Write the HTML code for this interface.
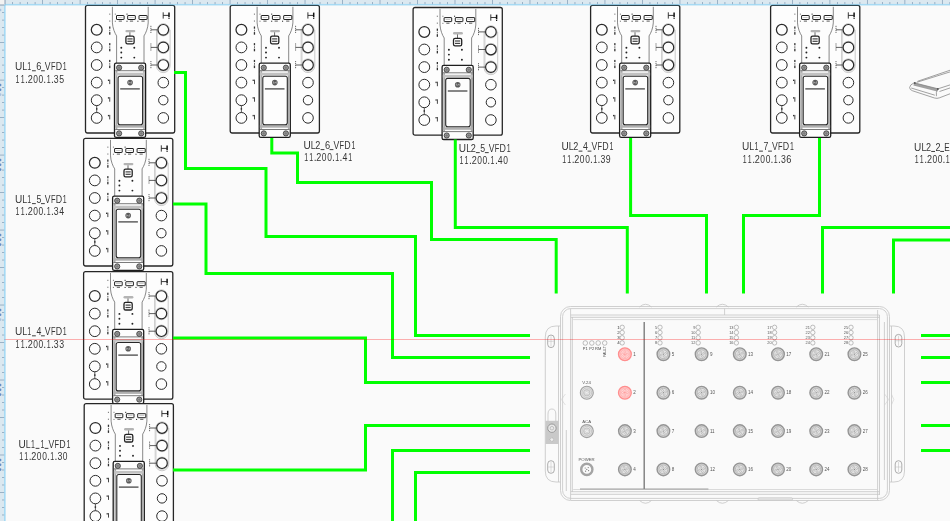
<!DOCTYPE html>
<html><head><meta charset="utf-8"><style>
html,body{margin:0;padding:0;background:#fafafa;width:950px;height:521px;overflow:hidden;font-family:"Liberation Sans",sans-serif;}
svg{display:block;will-change:transform}
</style></head><body>
<svg width="950" height="521" viewBox="0 0 950 521"><rect width="950" height="521" fill="#fafafa"/>
<defs><g id="vfd"><rect x="-0.1" y="0.1" width="89.2" height="127.6" rx="1.9" fill="#fdfdfd" stroke="#262626" stroke-width="1.3"/>
<path d="M26.8 1.5V17.6C27.2 23 29 27.5 31 30.6V58" fill="none" stroke="#6a6a6a" stroke-width="0.8"/>
<path d="M62.6 1.5V17.6C62.2 23 60.4 27.5 58.4 30.6V58" fill="none" stroke="#6a6a6a" stroke-width="0.8"/>
<rect x="30.9" y="10.2" width="7.6" height="4" rx="0.4" fill="#fff" stroke="#222" stroke-width="1"/>
<rect x="32.4" y="11.9" width="4.6" height="0.6" fill="#a8a8a8"/>
<rect x="33.099999999999994" y="15.3" width="3.2" height="1" fill="#5a5a5a"/>
<rect x="42.1" y="10.2" width="7.6" height="4" rx="0.4" fill="#fff" stroke="#222" stroke-width="1"/>
<rect x="43.6" y="11.9" width="4.6" height="0.6" fill="#a8a8a8"/>
<rect x="44.3" y="15.3" width="3.2" height="1" fill="#5a5a5a"/>
<rect x="53.4" y="10.2" width="8.1" height="4" rx="0.4" fill="#fff" stroke="#222" stroke-width="1"/>
<rect x="54.9" y="11.9" width="5.1" height="0.6" fill="#a8a8a8"/>
<rect x="55.849999999999994" y="15.3" width="3.2" height="1" fill="#5a5a5a"/>
<rect x="29.2" y="8.3" width="1" height="1.1" fill="#777"/>
<rect x="29.2" y="15.4" width="1" height="1.1" fill="#777"/>
<rect x="40.9" y="8.3" width="1" height="1.1" fill="#222"/>
<rect x="40.9" y="15.4" width="1" height="1.1" fill="#222"/>
<rect x="51.8" y="15.4" width="1" height="1.1" fill="#222"/>
<path d="M77.6 7V13.3M77.6 10.1H83.2" stroke="#222" stroke-width="0.9" fill="none"/>
<path d="M83.4 7.3V12" stroke="#111" stroke-width="1.5"/><rect x="82.8" y="12.6" width="1.2" height="1" fill="#111"/>
<rect x="39.8" y="24.6" width="9.9" height="2.4" rx="1.2" fill="#b4b4b4"/>
<path d="M44.3 27V30.8" stroke="#444" stroke-width="0.8"/>
<rect x="40.3" y="30.9" width="8.2" height="7.6" rx="1.6" fill="#fff" stroke="#222" stroke-width="1.3"/>
<rect x="41.8" y="33" width="5.2" height="1.2" fill="#444"/><rect x="41.8" y="35.4" width="5.2" height="1.2" fill="#444"/>
<circle cx="35.7" cy="42.4" r="0.95" fill="#222"/>
<circle cx="35.7" cy="47.2" r="0.95" fill="#222"/>
<circle cx="35.7" cy="52.3" r="0.95" fill="#222"/>
<circle cx="48.7" cy="42.4" r="0.95" fill="#222"/>
<circle cx="48.7" cy="52.3" r="0.95" fill="#222"/>
<circle cx="11.1" cy="24.5" r="5.4" fill="none" stroke="#2a2a2a" stroke-width="1.25"/>
<circle cx="11.1" cy="42.1" r="5.4" fill="none" stroke="#2a2a2a" stroke-width="1"/>
<circle cx="11.1" cy="59.7" r="5.4" fill="none" stroke="#2a2a2a" stroke-width="1"/>
<circle cx="11.1" cy="77.3" r="5.4" fill="none" stroke="#2a2a2a" stroke-width="1"/>
<circle cx="11.1" cy="94.9" r="5.4" fill="none" stroke="#2a2a2a" stroke-width="1"/>
<circle cx="11.1" cy="112.6" r="5.4" fill="none" stroke="#2a2a2a" stroke-width="1"/>
<path d="M11.1 100.3V107.2" stroke="#333" stroke-width="0.8"/><rect x="10.4" y="102.8" width="1.4" height="1.6" fill="#333"/>
<rect x="23.6" y="8.3" width="1.1" height="1.1" fill="#777"/>
<rect x="23.6" y="15.2" width="1.1" height="1.1" fill="#777"/>
<rect x="23.5" y="21.2" width="1.3" height="2.2" fill="#333"/><rect x="23.7" y="24.4" width="0.9" height="1.6" fill="#555"/><rect x="23.5" y="26.799999999999997" width="1.3" height="2.6" fill="#333"/>
<rect x="23.5" y="37.8" width="1.3" height="2.2" fill="#333"/><rect x="23.7" y="41.0" width="0.9" height="1.6" fill="#555"/><rect x="23.5" y="43.4" width="1.3" height="2.6" fill="#333"/>
<rect x="23.5" y="54.6" width="1.3" height="2.2" fill="#333"/><rect x="23.7" y="57.800000000000004" width="0.9" height="1.6" fill="#555"/><rect x="23.5" y="60.2" width="1.3" height="2.6" fill="#333"/>
<rect x="22.3" y="74.3" width="1.2" height="1.4" fill="#333"/><rect x="23.7" y="74.3" width="0.9" height="4.5" fill="#333"/>
<rect x="22.3" y="91.9" width="1.2" height="1.4" fill="#333"/><rect x="23.7" y="91.9" width="0.9" height="4.5" fill="#333"/>
<rect x="22.3" y="109.6" width="1.2" height="1.4" fill="#333"/><rect x="23.7" y="109.6" width="0.9" height="4.5" fill="#333"/>
<path d="M70.9 24.5V60.5A6.8 6.8 0 0 0 84.5 60.5V24.5" fill="none" stroke="#a0a0a0" stroke-width="0.55"/>
<path d="M71.9 24.5V60" fill="none" stroke="#bdbdbd" stroke-width="0.5"/>
<circle cx="77.7" cy="24.5" r="6.1" fill="#fdfdfd" stroke="#a6a6a6" stroke-width="0.7"/>
<circle cx="77.7" cy="24.5" r="5.3" fill="#fdfdfd" stroke="#262626" stroke-width="1.15"/>
<path d="M65.3 24.5H72" stroke="#333" stroke-width="0.8"/><path d="M65.3 20.5V28.5" stroke="#444" stroke-width="0.8" stroke-dasharray="1.2 0.8"/>
<circle cx="77.7" cy="42.1" r="6.1" fill="#fdfdfd" stroke="#a6a6a6" stroke-width="0.7"/>
<circle cx="77.7" cy="42.1" r="5.3" fill="#fdfdfd" stroke="#262626" stroke-width="1.15"/>
<path d="M65.3 42.1H72" stroke="#333" stroke-width="0.8"/><path d="M65.3 38.1V46.1" stroke="#444" stroke-width="0.8" stroke-dasharray="1.2 0.8"/>
<circle cx="77.7" cy="59.7" r="6.1" fill="#fdfdfd" stroke="#a6a6a6" stroke-width="0.7"/>
<circle cx="77.7" cy="59.7" r="5.3" fill="#fdfdfd" stroke="#262626" stroke-width="1.15"/>
<path d="M65.3 59.7H72" stroke="#333" stroke-width="0.8"/><path d="M65.3 55.7V63.7" stroke="#444" stroke-width="0.8" stroke-dasharray="1.2 0.8"/>
<circle cx="77.7" cy="77.3" r="5.3" fill="none" stroke="#2a2a2a" stroke-width="1"/>
<circle cx="77.7" cy="94.9" r="4.7" fill="none" stroke="#2a2a2a" stroke-width="1"/>
<circle cx="77.7" cy="112.6" r="5.3" fill="none" stroke="#2a2a2a" stroke-width="1"/>
<rect x="28.9" y="57.9" width="31.1" height="74.2" rx="1.6" fill="#fdfdfd" stroke="#1e1e1e" stroke-width="1.3"/>
<rect x="30.1" y="65.3" width="1.7" height="59" fill="#acacac"/>
<rect x="57.6" y="65.3" width="1.6" height="59" fill="#acacac"/>
<rect x="29.6" y="64.9" width="29.8" height="1" fill="#7a7a7a"/>
<rect x="29.6" y="67.4" width="29.8" height="2.8" fill="#c2c2c2"/>
<rect x="29.6" y="119.9" width="29.8" height="2.5" fill="#b0b0b0"/>
<rect x="29.6" y="123.7" width="29.8" height="1" fill="#7a7a7a"/>
<rect x="32.5" y="71" width="24.5" height="48.4" rx="2" fill="#fdfdfd" stroke="#262626" stroke-width="1.1"/>
<circle cx="33.5" cy="62.4" r="2.6" fill="#9a9a9a" stroke="#333" stroke-width="0.8"/>
<path d="M32.1 62.4H34.9M33.5 61.0V63.8" stroke="#666" stroke-width="0.5"/>
<circle cx="55.6" cy="62.4" r="2.6" fill="#9a9a9a" stroke="#333" stroke-width="0.8"/>
<path d="M54.2 62.4H57.0M55.6 61.0V63.8" stroke="#666" stroke-width="0.5"/>
<circle cx="33.5" cy="128.1" r="2.6" fill="#9a9a9a" stroke="#333" stroke-width="0.8"/>
<path d="M32.1 128.1H34.9M33.5 126.69999999999999V129.5" stroke="#666" stroke-width="0.5"/>
<circle cx="55.6" cy="128.1" r="2.6" fill="#9a9a9a" stroke="#333" stroke-width="0.8"/>
<path d="M54.2 128.1H57.0M55.6 126.69999999999999V129.5" stroke="#666" stroke-width="0.5"/>
<circle cx="44.5" cy="77.3" r="2.8" fill="#5a5a5a"/><path d="M43 78.4V76.4L44.5 77.8L46 76.4V78.4" stroke="#ddd" stroke-width="0.5" fill="none"/>
<rect x="34.6" y="83" width="19.6" height="1.2" fill="#3a3a3a"/></g></defs>
<use href="#vfd" x="85.6" y="5.3"/>
<g font-family="Liberation Sans, sans-serif" fill="#555"><path d="M561 326H556Q545.3 326 545.3 337V471Q545.3 482 556 482H561" fill="#fafafa" stroke="#c4c4c4" stroke-width="0.8"/>
<path d="M558.5 326V482" stroke="#c4c4c4" stroke-width="0.8"/>
<path d="M889 326H894Q904.5 326 904.5 337V471Q904.5 482 894 482H889" fill="#fafafa" stroke="#c4c4c4" stroke-width="0.8"/>
<path d="M891.5 326V482" stroke="#c4c4c4" stroke-width="0.8"/>
<rect x="547.7" y="335.0" width="6.6" height="12.6" rx="3.3" fill="none" stroke="#999" stroke-width="0.8"/>
<path d="M551 336.3V346.3M548.2 341.3H553.8" stroke="#bbb" stroke-width="0.5"/>
<rect x="547.7" y="460.7" width="6.6" height="12.6" rx="3.3" fill="none" stroke="#999" stroke-width="0.8"/>
<path d="M551 462V472M548.2 467H553.8" stroke="#bbb" stroke-width="0.5"/>
<rect x="895.2" y="334.4" width="6.6" height="12.6" rx="3.3" fill="none" stroke="#999" stroke-width="0.8"/>
<path d="M898.5 335.7V345.7M895.7 340.7H901.3" stroke="#bbb" stroke-width="0.5"/>
<rect x="895.2" y="460.7" width="6.6" height="12.6" rx="3.3" fill="none" stroke="#999" stroke-width="0.8"/>
<path d="M898.5 462V472M895.7 467H901.3" stroke="#bbb" stroke-width="0.5"/>
<rect x="560.5" y="306.5" width="329" height="194" rx="10" fill="#fafafa" stroke="#c4c4c4" stroke-width="0.8"/>
<rect x="562.6" y="308.6" width="324.8" height="189.8" rx="8" fill="none" stroke="#c4c4c4" stroke-width="0.8"/>
<path d="M570.8 315H879.5M570.8 317.3H879.5M570.8 491.7H879.5M570.8 494.3H879.5" stroke="#c4c4c4" stroke-width="0.8"/>
<path d="M570.6 308.6V500M572.3 317V492" stroke="#c4c4c4" stroke-width="0.8"/>
<path d="M877.6 310V500M879.5 315V495M884.4 322V480" stroke="#c4c4c4" stroke-width="0.8"/>
<path d="M573.2 319.6H877.6M573.2 489.5H877.6" stroke="#d2d2d2" stroke-width="0.8"/>
<path d="M639.5 307Q645.5 301.5 651.5 307" fill="none" stroke="#c4c4c4" stroke-width="0.8"/>
<path d="M639.5 500.5Q645.5 506 651.5 500.5" fill="none" stroke="#c4c4c4" stroke-width="0.8"/>
<path d="M716.4 307Q722.4 301.5 728.4 307" fill="none" stroke="#c4c4c4" stroke-width="0.8"/>
<path d="M716.4 500.5Q722.4 506 728.4 500.5" fill="none" stroke="#c4c4c4" stroke-width="0.8"/>
<path d="M796.3 307Q802.3 301.5 808.3 307" fill="none" stroke="#c4c4c4" stroke-width="0.8"/>
<path d="M796.3 500.5Q802.3 506 808.3 500.5" fill="none" stroke="#c4c4c4" stroke-width="0.8"/>
<rect x="758" y="497.8" width="34.5" height="2.4" rx="1" fill="#e6e6e6" stroke="#bdbdbd" stroke-width="0.6"/>
<path d="M566.3 430V491M724.6 308.6V315" stroke="#c4c4c4" stroke-width="0.8"/>
<path d="M884.6 394L888.6 399.5L884.6 405M891.4 394L893.8 399.5L891.4 405" fill="none" stroke="#cfcfcf" stroke-width="0.6"/>
<path d="M565.4 394L561.4 399.5L565.4 405" fill="none" stroke="#cfcfcf" stroke-width="0.6"/>
<path d="M644.2 322V489" stroke="#7c7c7c" stroke-width="1.4"/>
<path d="M580 489H708.4" stroke="#888" stroke-width="0.8"/>
<circle cx="663.4" cy="354.2" r="6.3" fill="#d4d4d4" stroke="#959595" stroke-width="1.4"/><circle cx="663.4" cy="354.2" r="4.4" fill="#e2e2e2" stroke="#a4a4a4" stroke-width="0.6"/><circle cx="662.6" cy="352.0" r="0.9" fill="#f2f2f2" stroke="#8c8c8c" stroke-width="0.4"/><circle cx="665.6" cy="353.4" r="0.9" fill="#f2f2f2" stroke="#8c8c8c" stroke-width="0.4"/><circle cx="664.1999999999999" cy="356.4" r="0.9" fill="#f2f2f2" stroke="#8c8c8c" stroke-width="0.4"/><circle cx="661.1999999999999" cy="355.0" r="0.9" fill="#f2f2f2" stroke="#8c8c8c" stroke-width="0.4"/><circle cx="663.4" cy="354.2" r="0.6" fill="#888"/>
<text x="671.6999999999999" y="355.8" font-size="4.5">5</text>
<circle cx="663.4" cy="392.7" r="6.3" fill="#d4d4d4" stroke="#959595" stroke-width="1.4"/><circle cx="663.4" cy="392.7" r="4.4" fill="#e2e2e2" stroke="#a4a4a4" stroke-width="0.6"/><circle cx="662.6" cy="390.5" r="0.9" fill="#f2f2f2" stroke="#8c8c8c" stroke-width="0.4"/><circle cx="665.6" cy="391.9" r="0.9" fill="#f2f2f2" stroke="#8c8c8c" stroke-width="0.4"/><circle cx="664.1999999999999" cy="394.9" r="0.9" fill="#f2f2f2" stroke="#8c8c8c" stroke-width="0.4"/><circle cx="661.1999999999999" cy="393.5" r="0.9" fill="#f2f2f2" stroke="#8c8c8c" stroke-width="0.4"/><circle cx="663.4" cy="392.7" r="0.6" fill="#888"/>
<text x="671.6999999999999" y="394.3" font-size="4.5">6</text>
<circle cx="663.4" cy="431.1" r="6.3" fill="#d4d4d4" stroke="#959595" stroke-width="1.4"/><circle cx="663.4" cy="431.1" r="4.4" fill="#e2e2e2" stroke="#a4a4a4" stroke-width="0.6"/><circle cx="662.6" cy="428.90000000000003" r="0.9" fill="#f2f2f2" stroke="#8c8c8c" stroke-width="0.4"/><circle cx="665.6" cy="430.3" r="0.9" fill="#f2f2f2" stroke="#8c8c8c" stroke-width="0.4"/><circle cx="664.1999999999999" cy="433.3" r="0.9" fill="#f2f2f2" stroke="#8c8c8c" stroke-width="0.4"/><circle cx="661.1999999999999" cy="431.90000000000003" r="0.9" fill="#f2f2f2" stroke="#8c8c8c" stroke-width="0.4"/><circle cx="663.4" cy="431.1" r="0.6" fill="#888"/>
<text x="671.6999999999999" y="432.70000000000005" font-size="4.5">7</text>
<circle cx="663.4" cy="469.4" r="6.3" fill="#d4d4d4" stroke="#959595" stroke-width="1.4"/><circle cx="663.4" cy="469.4" r="4.4" fill="#e2e2e2" stroke="#a4a4a4" stroke-width="0.6"/><circle cx="662.6" cy="467.2" r="0.9" fill="#f2f2f2" stroke="#8c8c8c" stroke-width="0.4"/><circle cx="665.6" cy="468.59999999999997" r="0.9" fill="#f2f2f2" stroke="#8c8c8c" stroke-width="0.4"/><circle cx="664.1999999999999" cy="471.59999999999997" r="0.9" fill="#f2f2f2" stroke="#8c8c8c" stroke-width="0.4"/><circle cx="661.1999999999999" cy="470.2" r="0.9" fill="#f2f2f2" stroke="#8c8c8c" stroke-width="0.4"/><circle cx="663.4" cy="469.4" r="0.6" fill="#888"/>
<text x="671.6999999999999" y="471.0" font-size="4.5">8</text>
<circle cx="701.6" cy="354.2" r="6.3" fill="#d4d4d4" stroke="#959595" stroke-width="1.4"/><circle cx="701.6" cy="354.2" r="4.4" fill="#e2e2e2" stroke="#a4a4a4" stroke-width="0.6"/><circle cx="700.8000000000001" cy="352.0" r="0.9" fill="#f2f2f2" stroke="#8c8c8c" stroke-width="0.4"/><circle cx="703.8000000000001" cy="353.4" r="0.9" fill="#f2f2f2" stroke="#8c8c8c" stroke-width="0.4"/><circle cx="702.4" cy="356.4" r="0.9" fill="#f2f2f2" stroke="#8c8c8c" stroke-width="0.4"/><circle cx="699.4" cy="355.0" r="0.9" fill="#f2f2f2" stroke="#8c8c8c" stroke-width="0.4"/><circle cx="701.6" cy="354.2" r="0.6" fill="#888"/>
<text x="709.9" y="355.8" font-size="4.5">9</text>
<circle cx="701.6" cy="392.7" r="6.3" fill="#d4d4d4" stroke="#959595" stroke-width="1.4"/><circle cx="701.6" cy="392.7" r="4.4" fill="#e2e2e2" stroke="#a4a4a4" stroke-width="0.6"/><circle cx="700.8000000000001" cy="390.5" r="0.9" fill="#f2f2f2" stroke="#8c8c8c" stroke-width="0.4"/><circle cx="703.8000000000001" cy="391.9" r="0.9" fill="#f2f2f2" stroke="#8c8c8c" stroke-width="0.4"/><circle cx="702.4" cy="394.9" r="0.9" fill="#f2f2f2" stroke="#8c8c8c" stroke-width="0.4"/><circle cx="699.4" cy="393.5" r="0.9" fill="#f2f2f2" stroke="#8c8c8c" stroke-width="0.4"/><circle cx="701.6" cy="392.7" r="0.6" fill="#888"/>
<text x="709.9" y="394.3" font-size="4.5">10</text>
<circle cx="701.6" cy="431.1" r="6.3" fill="#d4d4d4" stroke="#959595" stroke-width="1.4"/><circle cx="701.6" cy="431.1" r="4.4" fill="#e2e2e2" stroke="#a4a4a4" stroke-width="0.6"/><circle cx="700.8000000000001" cy="428.90000000000003" r="0.9" fill="#f2f2f2" stroke="#8c8c8c" stroke-width="0.4"/><circle cx="703.8000000000001" cy="430.3" r="0.9" fill="#f2f2f2" stroke="#8c8c8c" stroke-width="0.4"/><circle cx="702.4" cy="433.3" r="0.9" fill="#f2f2f2" stroke="#8c8c8c" stroke-width="0.4"/><circle cx="699.4" cy="431.90000000000003" r="0.9" fill="#f2f2f2" stroke="#8c8c8c" stroke-width="0.4"/><circle cx="701.6" cy="431.1" r="0.6" fill="#888"/>
<text x="709.9" y="432.70000000000005" font-size="4.5">11</text>
<circle cx="701.6" cy="469.4" r="6.3" fill="#d4d4d4" stroke="#959595" stroke-width="1.4"/><circle cx="701.6" cy="469.4" r="4.4" fill="#e2e2e2" stroke="#a4a4a4" stroke-width="0.6"/><circle cx="700.8000000000001" cy="467.2" r="0.9" fill="#f2f2f2" stroke="#8c8c8c" stroke-width="0.4"/><circle cx="703.8000000000001" cy="468.59999999999997" r="0.9" fill="#f2f2f2" stroke="#8c8c8c" stroke-width="0.4"/><circle cx="702.4" cy="471.59999999999997" r="0.9" fill="#f2f2f2" stroke="#8c8c8c" stroke-width="0.4"/><circle cx="699.4" cy="470.2" r="0.9" fill="#f2f2f2" stroke="#8c8c8c" stroke-width="0.4"/><circle cx="701.6" cy="469.4" r="0.6" fill="#888"/>
<text x="709.9" y="471.0" font-size="4.5">12</text>
<circle cx="739.8" cy="354.2" r="6.3" fill="#d4d4d4" stroke="#959595" stroke-width="1.4"/><circle cx="739.8" cy="354.2" r="4.4" fill="#e2e2e2" stroke="#a4a4a4" stroke-width="0.6"/><circle cx="739.0" cy="352.0" r="0.9" fill="#f2f2f2" stroke="#8c8c8c" stroke-width="0.4"/><circle cx="742.0" cy="353.4" r="0.9" fill="#f2f2f2" stroke="#8c8c8c" stroke-width="0.4"/><circle cx="740.5999999999999" cy="356.4" r="0.9" fill="#f2f2f2" stroke="#8c8c8c" stroke-width="0.4"/><circle cx="737.5999999999999" cy="355.0" r="0.9" fill="#f2f2f2" stroke="#8c8c8c" stroke-width="0.4"/><circle cx="739.8" cy="354.2" r="0.6" fill="#888"/>
<text x="748.0999999999999" y="355.8" font-size="4.5">13</text>
<circle cx="739.8" cy="392.7" r="6.3" fill="#d4d4d4" stroke="#959595" stroke-width="1.4"/><circle cx="739.8" cy="392.7" r="4.4" fill="#e2e2e2" stroke="#a4a4a4" stroke-width="0.6"/><circle cx="739.0" cy="390.5" r="0.9" fill="#f2f2f2" stroke="#8c8c8c" stroke-width="0.4"/><circle cx="742.0" cy="391.9" r="0.9" fill="#f2f2f2" stroke="#8c8c8c" stroke-width="0.4"/><circle cx="740.5999999999999" cy="394.9" r="0.9" fill="#f2f2f2" stroke="#8c8c8c" stroke-width="0.4"/><circle cx="737.5999999999999" cy="393.5" r="0.9" fill="#f2f2f2" stroke="#8c8c8c" stroke-width="0.4"/><circle cx="739.8" cy="392.7" r="0.6" fill="#888"/>
<text x="748.0999999999999" y="394.3" font-size="4.5">14</text>
<circle cx="739.8" cy="431.1" r="6.3" fill="#d4d4d4" stroke="#959595" stroke-width="1.4"/><circle cx="739.8" cy="431.1" r="4.4" fill="#e2e2e2" stroke="#a4a4a4" stroke-width="0.6"/><circle cx="739.0" cy="428.90000000000003" r="0.9" fill="#f2f2f2" stroke="#8c8c8c" stroke-width="0.4"/><circle cx="742.0" cy="430.3" r="0.9" fill="#f2f2f2" stroke="#8c8c8c" stroke-width="0.4"/><circle cx="740.5999999999999" cy="433.3" r="0.9" fill="#f2f2f2" stroke="#8c8c8c" stroke-width="0.4"/><circle cx="737.5999999999999" cy="431.90000000000003" r="0.9" fill="#f2f2f2" stroke="#8c8c8c" stroke-width="0.4"/><circle cx="739.8" cy="431.1" r="0.6" fill="#888"/>
<text x="748.0999999999999" y="432.70000000000005" font-size="4.5">15</text>
<circle cx="739.8" cy="469.4" r="6.3" fill="#d4d4d4" stroke="#959595" stroke-width="1.4"/><circle cx="739.8" cy="469.4" r="4.4" fill="#e2e2e2" stroke="#a4a4a4" stroke-width="0.6"/><circle cx="739.0" cy="467.2" r="0.9" fill="#f2f2f2" stroke="#8c8c8c" stroke-width="0.4"/><circle cx="742.0" cy="468.59999999999997" r="0.9" fill="#f2f2f2" stroke="#8c8c8c" stroke-width="0.4"/><circle cx="740.5999999999999" cy="471.59999999999997" r="0.9" fill="#f2f2f2" stroke="#8c8c8c" stroke-width="0.4"/><circle cx="737.5999999999999" cy="470.2" r="0.9" fill="#f2f2f2" stroke="#8c8c8c" stroke-width="0.4"/><circle cx="739.8" cy="469.4" r="0.6" fill="#888"/>
<text x="748.0999999999999" y="471.0" font-size="4.5">16</text>
<circle cx="778" cy="354.2" r="6.3" fill="#d4d4d4" stroke="#959595" stroke-width="1.4"/><circle cx="778" cy="354.2" r="4.4" fill="#e2e2e2" stroke="#a4a4a4" stroke-width="0.6"/><circle cx="777.2" cy="352.0" r="0.9" fill="#f2f2f2" stroke="#8c8c8c" stroke-width="0.4"/><circle cx="780.2" cy="353.4" r="0.9" fill="#f2f2f2" stroke="#8c8c8c" stroke-width="0.4"/><circle cx="778.8" cy="356.4" r="0.9" fill="#f2f2f2" stroke="#8c8c8c" stroke-width="0.4"/><circle cx="775.8" cy="355.0" r="0.9" fill="#f2f2f2" stroke="#8c8c8c" stroke-width="0.4"/><circle cx="778" cy="354.2" r="0.6" fill="#888"/>
<text x="786.3" y="355.8" font-size="4.5">17</text>
<circle cx="778" cy="392.7" r="6.3" fill="#d4d4d4" stroke="#959595" stroke-width="1.4"/><circle cx="778" cy="392.7" r="4.4" fill="#e2e2e2" stroke="#a4a4a4" stroke-width="0.6"/><circle cx="777.2" cy="390.5" r="0.9" fill="#f2f2f2" stroke="#8c8c8c" stroke-width="0.4"/><circle cx="780.2" cy="391.9" r="0.9" fill="#f2f2f2" stroke="#8c8c8c" stroke-width="0.4"/><circle cx="778.8" cy="394.9" r="0.9" fill="#f2f2f2" stroke="#8c8c8c" stroke-width="0.4"/><circle cx="775.8" cy="393.5" r="0.9" fill="#f2f2f2" stroke="#8c8c8c" stroke-width="0.4"/><circle cx="778" cy="392.7" r="0.6" fill="#888"/>
<text x="786.3" y="394.3" font-size="4.5">18</text>
<circle cx="778" cy="431.1" r="6.3" fill="#d4d4d4" stroke="#959595" stroke-width="1.4"/><circle cx="778" cy="431.1" r="4.4" fill="#e2e2e2" stroke="#a4a4a4" stroke-width="0.6"/><circle cx="777.2" cy="428.90000000000003" r="0.9" fill="#f2f2f2" stroke="#8c8c8c" stroke-width="0.4"/><circle cx="780.2" cy="430.3" r="0.9" fill="#f2f2f2" stroke="#8c8c8c" stroke-width="0.4"/><circle cx="778.8" cy="433.3" r="0.9" fill="#f2f2f2" stroke="#8c8c8c" stroke-width="0.4"/><circle cx="775.8" cy="431.90000000000003" r="0.9" fill="#f2f2f2" stroke="#8c8c8c" stroke-width="0.4"/><circle cx="778" cy="431.1" r="0.6" fill="#888"/>
<text x="786.3" y="432.70000000000005" font-size="4.5">19</text>
<circle cx="778" cy="469.4" r="6.3" fill="#d4d4d4" stroke="#959595" stroke-width="1.4"/><circle cx="778" cy="469.4" r="4.4" fill="#e2e2e2" stroke="#a4a4a4" stroke-width="0.6"/><circle cx="777.2" cy="467.2" r="0.9" fill="#f2f2f2" stroke="#8c8c8c" stroke-width="0.4"/><circle cx="780.2" cy="468.59999999999997" r="0.9" fill="#f2f2f2" stroke="#8c8c8c" stroke-width="0.4"/><circle cx="778.8" cy="471.59999999999997" r="0.9" fill="#f2f2f2" stroke="#8c8c8c" stroke-width="0.4"/><circle cx="775.8" cy="470.2" r="0.9" fill="#f2f2f2" stroke="#8c8c8c" stroke-width="0.4"/><circle cx="778" cy="469.4" r="0.6" fill="#888"/>
<text x="786.3" y="471.0" font-size="4.5">20</text>
<circle cx="816.2" cy="354.2" r="6.3" fill="#d4d4d4" stroke="#959595" stroke-width="1.4"/><circle cx="816.2" cy="354.2" r="4.4" fill="#e2e2e2" stroke="#a4a4a4" stroke-width="0.6"/><circle cx="815.4000000000001" cy="352.0" r="0.9" fill="#f2f2f2" stroke="#8c8c8c" stroke-width="0.4"/><circle cx="818.4000000000001" cy="353.4" r="0.9" fill="#f2f2f2" stroke="#8c8c8c" stroke-width="0.4"/><circle cx="817.0" cy="356.4" r="0.9" fill="#f2f2f2" stroke="#8c8c8c" stroke-width="0.4"/><circle cx="814.0" cy="355.0" r="0.9" fill="#f2f2f2" stroke="#8c8c8c" stroke-width="0.4"/><circle cx="816.2" cy="354.2" r="0.6" fill="#888"/>
<text x="824.5" y="355.8" font-size="4.5">21</text>
<circle cx="816.2" cy="392.7" r="6.3" fill="#d4d4d4" stroke="#959595" stroke-width="1.4"/><circle cx="816.2" cy="392.7" r="4.4" fill="#e2e2e2" stroke="#a4a4a4" stroke-width="0.6"/><circle cx="815.4000000000001" cy="390.5" r="0.9" fill="#f2f2f2" stroke="#8c8c8c" stroke-width="0.4"/><circle cx="818.4000000000001" cy="391.9" r="0.9" fill="#f2f2f2" stroke="#8c8c8c" stroke-width="0.4"/><circle cx="817.0" cy="394.9" r="0.9" fill="#f2f2f2" stroke="#8c8c8c" stroke-width="0.4"/><circle cx="814.0" cy="393.5" r="0.9" fill="#f2f2f2" stroke="#8c8c8c" stroke-width="0.4"/><circle cx="816.2" cy="392.7" r="0.6" fill="#888"/>
<text x="824.5" y="394.3" font-size="4.5">22</text>
<circle cx="816.2" cy="431.1" r="6.3" fill="#d4d4d4" stroke="#959595" stroke-width="1.4"/><circle cx="816.2" cy="431.1" r="4.4" fill="#e2e2e2" stroke="#a4a4a4" stroke-width="0.6"/><circle cx="815.4000000000001" cy="428.90000000000003" r="0.9" fill="#f2f2f2" stroke="#8c8c8c" stroke-width="0.4"/><circle cx="818.4000000000001" cy="430.3" r="0.9" fill="#f2f2f2" stroke="#8c8c8c" stroke-width="0.4"/><circle cx="817.0" cy="433.3" r="0.9" fill="#f2f2f2" stroke="#8c8c8c" stroke-width="0.4"/><circle cx="814.0" cy="431.90000000000003" r="0.9" fill="#f2f2f2" stroke="#8c8c8c" stroke-width="0.4"/><circle cx="816.2" cy="431.1" r="0.6" fill="#888"/>
<text x="824.5" y="432.70000000000005" font-size="4.5">23</text>
<circle cx="816.2" cy="469.4" r="6.3" fill="#d4d4d4" stroke="#959595" stroke-width="1.4"/><circle cx="816.2" cy="469.4" r="4.4" fill="#e2e2e2" stroke="#a4a4a4" stroke-width="0.6"/><circle cx="815.4000000000001" cy="467.2" r="0.9" fill="#f2f2f2" stroke="#8c8c8c" stroke-width="0.4"/><circle cx="818.4000000000001" cy="468.59999999999997" r="0.9" fill="#f2f2f2" stroke="#8c8c8c" stroke-width="0.4"/><circle cx="817.0" cy="471.59999999999997" r="0.9" fill="#f2f2f2" stroke="#8c8c8c" stroke-width="0.4"/><circle cx="814.0" cy="470.2" r="0.9" fill="#f2f2f2" stroke="#8c8c8c" stroke-width="0.4"/><circle cx="816.2" cy="469.4" r="0.6" fill="#888"/>
<text x="824.5" y="471.0" font-size="4.5">24</text>
<circle cx="854.4" cy="354.2" r="6.3" fill="#d4d4d4" stroke="#959595" stroke-width="1.4"/><circle cx="854.4" cy="354.2" r="4.4" fill="#e2e2e2" stroke="#a4a4a4" stroke-width="0.6"/><circle cx="853.6" cy="352.0" r="0.9" fill="#f2f2f2" stroke="#8c8c8c" stroke-width="0.4"/><circle cx="856.6" cy="353.4" r="0.9" fill="#f2f2f2" stroke="#8c8c8c" stroke-width="0.4"/><circle cx="855.1999999999999" cy="356.4" r="0.9" fill="#f2f2f2" stroke="#8c8c8c" stroke-width="0.4"/><circle cx="852.1999999999999" cy="355.0" r="0.9" fill="#f2f2f2" stroke="#8c8c8c" stroke-width="0.4"/><circle cx="854.4" cy="354.2" r="0.6" fill="#888"/>
<text x="862.6999999999999" y="355.8" font-size="4.5">25</text>
<circle cx="854.4" cy="392.7" r="6.3" fill="#d4d4d4" stroke="#959595" stroke-width="1.4"/><circle cx="854.4" cy="392.7" r="4.4" fill="#e2e2e2" stroke="#a4a4a4" stroke-width="0.6"/><circle cx="853.6" cy="390.5" r="0.9" fill="#f2f2f2" stroke="#8c8c8c" stroke-width="0.4"/><circle cx="856.6" cy="391.9" r="0.9" fill="#f2f2f2" stroke="#8c8c8c" stroke-width="0.4"/><circle cx="855.1999999999999" cy="394.9" r="0.9" fill="#f2f2f2" stroke="#8c8c8c" stroke-width="0.4"/><circle cx="852.1999999999999" cy="393.5" r="0.9" fill="#f2f2f2" stroke="#8c8c8c" stroke-width="0.4"/><circle cx="854.4" cy="392.7" r="0.6" fill="#888"/>
<text x="862.6999999999999" y="394.3" font-size="4.5">26</text>
<circle cx="854.4" cy="431.1" r="6.3" fill="#d4d4d4" stroke="#959595" stroke-width="1.4"/><circle cx="854.4" cy="431.1" r="4.4" fill="#e2e2e2" stroke="#a4a4a4" stroke-width="0.6"/><circle cx="853.6" cy="428.90000000000003" r="0.9" fill="#f2f2f2" stroke="#8c8c8c" stroke-width="0.4"/><circle cx="856.6" cy="430.3" r="0.9" fill="#f2f2f2" stroke="#8c8c8c" stroke-width="0.4"/><circle cx="855.1999999999999" cy="433.3" r="0.9" fill="#f2f2f2" stroke="#8c8c8c" stroke-width="0.4"/><circle cx="852.1999999999999" cy="431.90000000000003" r="0.9" fill="#f2f2f2" stroke="#8c8c8c" stroke-width="0.4"/><circle cx="854.4" cy="431.1" r="0.6" fill="#888"/>
<text x="862.6999999999999" y="432.70000000000005" font-size="4.5">27</text>
<circle cx="854.4" cy="469.4" r="6.3" fill="#d4d4d4" stroke="#959595" stroke-width="1.4"/><circle cx="854.4" cy="469.4" r="4.4" fill="#e2e2e2" stroke="#a4a4a4" stroke-width="0.6"/><circle cx="853.6" cy="467.2" r="0.9" fill="#f2f2f2" stroke="#8c8c8c" stroke-width="0.4"/><circle cx="856.6" cy="468.59999999999997" r="0.9" fill="#f2f2f2" stroke="#8c8c8c" stroke-width="0.4"/><circle cx="855.1999999999999" cy="471.59999999999997" r="0.9" fill="#f2f2f2" stroke="#8c8c8c" stroke-width="0.4"/><circle cx="852.1999999999999" cy="470.2" r="0.9" fill="#f2f2f2" stroke="#8c8c8c" stroke-width="0.4"/><circle cx="854.4" cy="469.4" r="0.6" fill="#888"/>
<text x="862.6999999999999" y="471.0" font-size="4.5">28</text>
<circle cx="660.0" cy="327.3" r="2.2" fill="#fafafa" stroke="#8c8c8c" stroke-width="0.55"/>
<text x="657.1" y="328.7" font-size="3.9" text-anchor="end">5</text>
<circle cx="660.0" cy="332.5" r="2.2" fill="#fafafa" stroke="#8c8c8c" stroke-width="0.55"/>
<text x="657.1" y="333.9" font-size="3.9" text-anchor="end">6</text>
<circle cx="660.0" cy="337.7" r="2.2" fill="#fafafa" stroke="#8c8c8c" stroke-width="0.55"/>
<text x="657.1" y="339.09999999999997" font-size="3.9" text-anchor="end">7</text>
<circle cx="660.0" cy="342.90000000000003" r="2.2" fill="#fafafa" stroke="#8c8c8c" stroke-width="0.55"/>
<text x="657.1" y="344.3" font-size="3.9" text-anchor="end">8</text>
<circle cx="698.2" cy="327.3" r="2.2" fill="#fafafa" stroke="#8c8c8c" stroke-width="0.55"/>
<text x="695.3000000000001" y="328.7" font-size="3.9" text-anchor="end">9</text>
<circle cx="698.2" cy="332.5" r="2.2" fill="#fafafa" stroke="#8c8c8c" stroke-width="0.55"/>
<text x="695.3000000000001" y="333.9" font-size="3.9" text-anchor="end">10</text>
<circle cx="698.2" cy="337.7" r="2.2" fill="#fafafa" stroke="#8c8c8c" stroke-width="0.55"/>
<text x="695.3000000000001" y="339.09999999999997" font-size="3.9" text-anchor="end">11</text>
<circle cx="698.2" cy="342.90000000000003" r="2.2" fill="#fafafa" stroke="#8c8c8c" stroke-width="0.55"/>
<text x="695.3000000000001" y="344.3" font-size="3.9" text-anchor="end">12</text>
<circle cx="736.4" cy="327.3" r="2.2" fill="#fafafa" stroke="#8c8c8c" stroke-width="0.55"/>
<text x="733.5" y="328.7" font-size="3.9" text-anchor="end">13</text>
<circle cx="736.4" cy="332.5" r="2.2" fill="#fafafa" stroke="#8c8c8c" stroke-width="0.55"/>
<text x="733.5" y="333.9" font-size="3.9" text-anchor="end">14</text>
<circle cx="736.4" cy="337.7" r="2.2" fill="#fafafa" stroke="#8c8c8c" stroke-width="0.55"/>
<text x="733.5" y="339.09999999999997" font-size="3.9" text-anchor="end">15</text>
<circle cx="736.4" cy="342.90000000000003" r="2.2" fill="#fafafa" stroke="#8c8c8c" stroke-width="0.55"/>
<text x="733.5" y="344.3" font-size="3.9" text-anchor="end">16</text>
<circle cx="774.6" cy="327.3" r="2.2" fill="#fafafa" stroke="#8c8c8c" stroke-width="0.55"/>
<text x="771.7" y="328.7" font-size="3.9" text-anchor="end">17</text>
<circle cx="774.6" cy="332.5" r="2.2" fill="#fafafa" stroke="#8c8c8c" stroke-width="0.55"/>
<text x="771.7" y="333.9" font-size="3.9" text-anchor="end">18</text>
<circle cx="774.6" cy="337.7" r="2.2" fill="#fafafa" stroke="#8c8c8c" stroke-width="0.55"/>
<text x="771.7" y="339.09999999999997" font-size="3.9" text-anchor="end">19</text>
<circle cx="774.6" cy="342.90000000000003" r="2.2" fill="#fafafa" stroke="#8c8c8c" stroke-width="0.55"/>
<text x="771.7" y="344.3" font-size="3.9" text-anchor="end">20</text>
<circle cx="812.8000000000001" cy="327.3" r="2.2" fill="#fafafa" stroke="#8c8c8c" stroke-width="0.55"/>
<text x="809.9000000000001" y="328.7" font-size="3.9" text-anchor="end">21</text>
<circle cx="812.8000000000001" cy="332.5" r="2.2" fill="#fafafa" stroke="#8c8c8c" stroke-width="0.55"/>
<text x="809.9000000000001" y="333.9" font-size="3.9" text-anchor="end">22</text>
<circle cx="812.8000000000001" cy="337.7" r="2.2" fill="#fafafa" stroke="#8c8c8c" stroke-width="0.55"/>
<text x="809.9000000000001" y="339.09999999999997" font-size="3.9" text-anchor="end">23</text>
<circle cx="812.8000000000001" cy="342.90000000000003" r="2.2" fill="#fafafa" stroke="#8c8c8c" stroke-width="0.55"/>
<text x="809.9000000000001" y="344.3" font-size="3.9" text-anchor="end">24</text>
<circle cx="851.0" cy="327.3" r="2.2" fill="#fafafa" stroke="#8c8c8c" stroke-width="0.55"/>
<text x="848.1" y="328.7" font-size="3.9" text-anchor="end">25</text>
<circle cx="851.0" cy="332.5" r="2.2" fill="#fafafa" stroke="#8c8c8c" stroke-width="0.55"/>
<text x="848.1" y="333.9" font-size="3.9" text-anchor="end">26</text>
<circle cx="851.0" cy="337.7" r="2.2" fill="#fafafa" stroke="#8c8c8c" stroke-width="0.55"/>
<text x="848.1" y="339.09999999999997" font-size="3.9" text-anchor="end">27</text>
<circle cx="851.0" cy="342.90000000000003" r="2.2" fill="#fafafa" stroke="#8c8c8c" stroke-width="0.55"/>
<text x="848.1" y="344.3" font-size="3.9" text-anchor="end">28</text>
<circle cx="624.9" cy="354.2" r="6.4" fill="#ffc4c4" stroke="#ff8e8e" stroke-width="1.3"/><circle cx="624.9" cy="354.2" r="4.4" fill="#ffd2d2" stroke="#ffa0a0" stroke-width="0.5"/><circle cx="624.9" cy="351.9" r="1" fill="#ffeaea" stroke="#ff8080" stroke-width="0.45"/><circle cx="627.1999999999999" cy="354.2" r="1" fill="#ffeaea" stroke="#ff8080" stroke-width="0.45"/><circle cx="624.9" cy="356.5" r="1" fill="#ffeaea" stroke="#ff8080" stroke-width="0.45"/><circle cx="622.6" cy="354.2" r="1" fill="#ffeaea" stroke="#ff8080" stroke-width="0.45"/><circle cx="624.9" cy="354.2" r="0.6" fill="#ff7a7a"/>
<text x="633.3" y="355.8" font-size="4.5">1</text>
<circle cx="622.2" cy="327.3" r="2.2" fill="#fafafa" stroke="#8c8c8c" stroke-width="0.55"/>
<text x="619.6" y="328.8" font-size="4.3" fill="#333" text-anchor="end">1</text>
<circle cx="624.9" cy="392.7" r="6.4" fill="#ffc4c4" stroke="#ff8e8e" stroke-width="1.3"/><circle cx="624.9" cy="392.7" r="4.4" fill="#ffd2d2" stroke="#ffa0a0" stroke-width="0.5"/><circle cx="624.9" cy="390.4" r="1" fill="#ffeaea" stroke="#ff8080" stroke-width="0.45"/><circle cx="627.1999999999999" cy="392.7" r="1" fill="#ffeaea" stroke="#ff8080" stroke-width="0.45"/><circle cx="624.9" cy="395.0" r="1" fill="#ffeaea" stroke="#ff8080" stroke-width="0.45"/><circle cx="622.6" cy="392.7" r="1" fill="#ffeaea" stroke="#ff8080" stroke-width="0.45"/><circle cx="624.9" cy="392.7" r="0.6" fill="#ff7a7a"/>
<text x="633.3" y="394.3" font-size="4.5">2</text>
<circle cx="622.2" cy="332.5" r="2.2" fill="#fafafa" stroke="#8c8c8c" stroke-width="0.55"/>
<text x="619.6" y="334.0" font-size="4.3" fill="#333" text-anchor="end">2</text>
<circle cx="624.9" cy="431.1" r="6.3" fill="#d4d4d4" stroke="#959595" stroke-width="1.4"/><circle cx="624.9" cy="431.1" r="4.4" fill="#e2e2e2" stroke="#a4a4a4" stroke-width="0.6"/><circle cx="624.1" cy="428.90000000000003" r="0.9" fill="#f2f2f2" stroke="#8c8c8c" stroke-width="0.4"/><circle cx="627.1" cy="430.3" r="0.9" fill="#f2f2f2" stroke="#8c8c8c" stroke-width="0.4"/><circle cx="625.6999999999999" cy="433.3" r="0.9" fill="#f2f2f2" stroke="#8c8c8c" stroke-width="0.4"/><circle cx="622.6999999999999" cy="431.90000000000003" r="0.9" fill="#f2f2f2" stroke="#8c8c8c" stroke-width="0.4"/><circle cx="624.9" cy="431.1" r="0.6" fill="#888"/>
<text x="633.3" y="432.70000000000005" font-size="4.5">3</text>
<circle cx="622.2" cy="337.7" r="2.2" fill="#fafafa" stroke="#8c8c8c" stroke-width="0.55"/>
<text x="619.6" y="339.2" font-size="4.3" fill="#333" text-anchor="end">3</text>
<circle cx="624.9" cy="469.4" r="6.3" fill="#d4d4d4" stroke="#959595" stroke-width="1.4"/><circle cx="624.9" cy="469.4" r="4.4" fill="#e2e2e2" stroke="#a4a4a4" stroke-width="0.6"/><circle cx="624.1" cy="467.2" r="0.9" fill="#f2f2f2" stroke="#8c8c8c" stroke-width="0.4"/><circle cx="627.1" cy="468.59999999999997" r="0.9" fill="#f2f2f2" stroke="#8c8c8c" stroke-width="0.4"/><circle cx="625.6999999999999" cy="471.59999999999997" r="0.9" fill="#f2f2f2" stroke="#8c8c8c" stroke-width="0.4"/><circle cx="622.6999999999999" cy="470.2" r="0.9" fill="#f2f2f2" stroke="#8c8c8c" stroke-width="0.4"/><circle cx="624.9" cy="469.4" r="0.6" fill="#888"/>
<text x="633.3" y="471.0" font-size="4.5">4</text>
<circle cx="622.2" cy="342.90000000000003" r="2.2" fill="#fafafa" stroke="#8c8c8c" stroke-width="0.55"/>
<text x="619.6" y="344.40000000000003" font-size="4.3" fill="#333" text-anchor="end">4</text>
<circle cx="585.3" cy="343" r="2.3" fill="#fafafa" stroke="#8c8c8c" stroke-width="0.55"/>
<text x="585.3" y="350.3" font-size="4" fill="#444" text-anchor="middle">P1</text>
<circle cx="591.8" cy="343" r="2.3" fill="#fafafa" stroke="#8c8c8c" stroke-width="0.55"/>
<text x="591.8" y="350.3" font-size="4" fill="#444" text-anchor="middle">P2</text>
<circle cx="598.2" cy="343" r="2.3" fill="#fafafa" stroke="#8c8c8c" stroke-width="0.55"/>
<text x="598.2" y="350.3" font-size="4" fill="#444" text-anchor="middle">RM</text>
<circle cx="604.7" cy="343" r="2.3" fill="#fafafa" stroke="#8c8c8c" stroke-width="0.55"/>
<text x="0" y="0" font-size="3.6" fill="#444" transform="translate(606 357) rotate(-90)">FAULT</text>
<circle cx="586.8" cy="392.7" r="6.5" fill="#e4e4e4" stroke="#a0a0a0" stroke-width="1.1"/>
<circle cx="586.8" cy="392.7" r="4.8" fill="none" stroke="#b4b4b4" stroke-width="0.6"/>
<circle cx="586.8" cy="392.7" r="3.2" fill="#d6d6d6" stroke="#aaa" stroke-width="0.5"/>
<path d="M584.8 391.7L588.8 393.7M585.3 394.2L588.3 391.2" stroke="#f4f4f4" stroke-width="0.7"/>
<text x="586.6" y="384.3" font-size="4.3" text-anchor="middle">V.24</text>
<circle cx="586.8" cy="431.1" r="6.5" fill="#e4e4e4" stroke="#a0a0a0" stroke-width="1.1"/>
<circle cx="586.8" cy="431.1" r="4.8" fill="none" stroke="#b4b4b4" stroke-width="0.6"/>
<circle cx="586.8" cy="431.1" r="3.2" fill="#d6d6d6" stroke="#aaa" stroke-width="0.5"/>
<path d="M584.8 430.1L588.8 432.1M585.3 432.6L588.3 429.6" stroke="#f4f4f4" stroke-width="0.7"/>
<text x="586.6" y="422.70000000000005" font-size="4.3" text-anchor="middle">ACA</text>
<circle cx="586.8" cy="469.4" r="5.6" fill="#fafafa" stroke="#a4a4a4" stroke-width="2.4"/>
<circle cx="585.1999999999999" cy="468.0" r="0.6" fill="#777"/>
<circle cx="588.1999999999999" cy="467.59999999999997" r="0.6" fill="#777"/>
<circle cx="588.5999999999999" cy="470.59999999999997" r="0.6" fill="#777"/>
<circle cx="585.5999999999999" cy="471.2" r="0.6" fill="#777"/>
<circle cx="586.8" cy="469.4" r="0.6" fill="#777"/>
<text x="586.6" y="461.0" font-size="4.3" text-anchor="middle">POWER</text>
<rect x="545.5" y="420.8" width="13.2" height="23.2" fill="#c9c9c9"/>
<circle cx="551.9" cy="428.2" r="4.2" fill="#e8e8e8" stroke="#888" stroke-width="0.8"/>
<circle cx="551.9" cy="428.2" r="1.8" fill="none" stroke="#999" stroke-width="0.5"/>
<path d="M551.9 437.5L554 439.6L551.9 441.7L549.8 439.6Z" fill="#eee" stroke="#999" stroke-width="0.4"/>
<path d="M548 421V414Q548 409 551.9 409Q555.8 409 555.8 414V421" fill="none" stroke="#bbb" stroke-width="0.7"/></g>
<use href="#vfd" x="230.3" y="5.3"/>
<use href="#vfd" x="413.2" y="7.4"/>
<use href="#vfd" x="590.7" y="5.3"/>
<use href="#vfd" x="770.7" y="5.3"/>
<use href="#vfd" x="83.7" y="138.3"/>
<use href="#vfd" x="83.7" y="271.5"/>
<use href="#vfd" x="84.3" y="403.5"/>
<path d="M174 72.5 L185.5 72.5 L185.5 168.5 L266 168.5 L266 236.5 L415.5 236.5 L415.5 335.5 L530 335.5" fill="none" stroke="#00ff00" stroke-width="3" stroke-linejoin="miter" stroke-linecap="butt"/>
<path d="M271.8 138 L271.8 153 L297.5 153 L297.5 182.5 L431.5 182.5 L431.5 239.5 L556.2 239.5 L556.2 293.5" fill="none" stroke="#00ff00" stroke-width="3" stroke-linejoin="miter" stroke-linecap="butt"/>
<path d="M455.3 139.4 L455.3 227.5 L627.3 227.5 L627.3 293.5" fill="none" stroke="#00ff00" stroke-width="3" stroke-linejoin="miter" stroke-linecap="butt"/>
<path d="M173 204 L206 204 L206 273.5 L392.5 273.5 L392.5 357.5 L530 357.5" fill="none" stroke="#00ff00" stroke-width="3" stroke-linejoin="miter" stroke-linecap="butt"/>
<path d="M173 338 L365.5 338 L365.5 382.5 L530 382.5" fill="none" stroke="#00ff00" stroke-width="3" stroke-linejoin="miter" stroke-linecap="butt"/>
<path d="M630.6 138 L630.6 215.5 L706.5 215.5 L706.5 293.5" fill="none" stroke="#00ff00" stroke-width="3" stroke-linejoin="miter" stroke-linecap="butt"/>
<path d="M819.5 138 L819.5 215.5 L743.5 215.5 L743.5 293.5" fill="none" stroke="#00ff00" stroke-width="3" stroke-linejoin="miter" stroke-linecap="butt"/>
<path d="M951 227.5 L822.5 227.5 L822.5 293.5" fill="none" stroke="#00ff00" stroke-width="3" stroke-linejoin="miter" stroke-linecap="butt"/>
<path d="M951 240 L893.5 240 L893.5 293.5" fill="none" stroke="#00ff00" stroke-width="3" stroke-linejoin="miter" stroke-linecap="butt"/>
<path d="M173 470 L365.5 470 L365.5 425.5 L530 425.5" fill="none" stroke="#00ff00" stroke-width="3" stroke-linejoin="miter" stroke-linecap="butt"/>
<path d="M392.5 522 L392.5 450.5 L530 450.5" fill="none" stroke="#00ff00" stroke-width="3" stroke-linejoin="miter" stroke-linecap="butt"/>
<path d="M415.5 522 L415.5 472.5 L530 472.5" fill="none" stroke="#00ff00" stroke-width="3" stroke-linejoin="miter" stroke-linecap="butt"/>
<path d="M921 335.5 L951 335.5" fill="none" stroke="#00ff00" stroke-width="3" stroke-linejoin="miter" stroke-linecap="butt"/>
<path d="M921 357.5 L951 357.5" fill="none" stroke="#00ff00" stroke-width="3" stroke-linejoin="miter" stroke-linecap="butt"/>
<path d="M921 382.5 L951 382.5" fill="none" stroke="#00ff00" stroke-width="3" stroke-linejoin="miter" stroke-linecap="butt"/>
<path d="M921 425.5 L951 425.5" fill="none" stroke="#00ff00" stroke-width="3" stroke-linejoin="miter" stroke-linecap="butt"/>
<path d="M921 450.5 L951 450.5" fill="none" stroke="#00ff00" stroke-width="3" stroke-linejoin="miter" stroke-linecap="butt"/>
<g font-family="Liberation Sans, sans-serif" font-size="10.3" fill="#353535">
<text x="0" y="0" text-anchor="middle" transform="translate(18.55 70.00) scale(0.98 1)">U</text><text x="0" y="0" text-anchor="middle" transform="translate(24.70 70.00) scale(0.86 1)">L</text><text x="0" y="0" text-anchor="middle" transform="translate(29.25 70.00) scale(0.68 1)">1</text><rect x="32.00" y="70.30" width="3.8" height="0.95"/><text x="0" y="0" text-anchor="middle" transform="translate(38.90 70.00) scale(0.9 1)">6</text><rect x="41.00" y="70.30" width="3.8" height="0.95"/><text x="0" y="0" text-anchor="middle" transform="translate(47.70 70.00) scale(0.84 1)">V</text><text x="0" y="0" text-anchor="middle" transform="translate(53.15 70.00) scale(0.72 1)">F</text><text x="0" y="0" text-anchor="middle" transform="translate(58.90 70.00) scale(0.86 1)">D</text><text x="0" y="0" text-anchor="middle" transform="translate(64.80 70.00) scale(0.68 1)">1</text><text x="0" y="0" text-anchor="middle" transform="translate(17.50 82.60) scale(0.68 1)">1</text><text x="0" y="0" text-anchor="middle" transform="translate(22.60 82.60) scale(0.68 1)">1</text><text x="0" y="0" text-anchor="middle" transform="translate(26.50 82.60) scale(1.0 1)">.</text><text x="0" y="0" text-anchor="middle" transform="translate(30.25 82.60) scale(0.88 1)">2</text><text x="0" y="0" text-anchor="middle" transform="translate(35.60 82.60) scale(0.82 1)">0</text><text x="0" y="0" text-anchor="middle" transform="translate(40.90 82.60) scale(0.82 1)">0</text><text x="0" y="0" text-anchor="middle" transform="translate(44.75 82.60) scale(1.0 1)">.</text><text x="0" y="0" text-anchor="middle" transform="translate(48.60 82.60) scale(0.68 1)">1</text><text x="0" y="0" text-anchor="middle" transform="translate(52.45 82.60) scale(1.0 1)">.</text><text x="0" y="0" text-anchor="middle" transform="translate(56.30 82.60) scale(0.85 1)">3</text><text x="0" y="0" text-anchor="middle" transform="translate(61.60 82.60) scale(0.85 1)">5</text>
<text x="0" y="0" text-anchor="middle" transform="translate(18.55 202.85) scale(0.98 1)">U</text><text x="0" y="0" text-anchor="middle" transform="translate(24.70 202.85) scale(0.86 1)">L</text><text x="0" y="0" text-anchor="middle" transform="translate(29.25 202.85) scale(0.68 1)">1</text><rect x="32.00" y="203.15" width="3.8" height="0.95"/><text x="0" y="0" text-anchor="middle" transform="translate(38.90 202.85) scale(0.85 1)">5</text><rect x="41.00" y="203.15" width="3.8" height="0.95"/><text x="0" y="0" text-anchor="middle" transform="translate(47.70 202.85) scale(0.84 1)">V</text><text x="0" y="0" text-anchor="middle" transform="translate(53.15 202.85) scale(0.72 1)">F</text><text x="0" y="0" text-anchor="middle" transform="translate(58.90 202.85) scale(0.86 1)">D</text><text x="0" y="0" text-anchor="middle" transform="translate(64.80 202.85) scale(0.68 1)">1</text><text x="0" y="0" text-anchor="middle" transform="translate(17.50 215.45) scale(0.68 1)">1</text><text x="0" y="0" text-anchor="middle" transform="translate(22.60 215.45) scale(0.68 1)">1</text><text x="0" y="0" text-anchor="middle" transform="translate(26.50 215.45) scale(1.0 1)">.</text><text x="0" y="0" text-anchor="middle" transform="translate(30.25 215.45) scale(0.88 1)">2</text><text x="0" y="0" text-anchor="middle" transform="translate(35.60 215.45) scale(0.82 1)">0</text><text x="0" y="0" text-anchor="middle" transform="translate(40.90 215.45) scale(0.82 1)">0</text><text x="0" y="0" text-anchor="middle" transform="translate(44.75 215.45) scale(1.0 1)">.</text><text x="0" y="0" text-anchor="middle" transform="translate(48.60 215.45) scale(0.68 1)">1</text><text x="0" y="0" text-anchor="middle" transform="translate(52.45 215.45) scale(1.0 1)">.</text><text x="0" y="0" text-anchor="middle" transform="translate(56.30 215.45) scale(0.85 1)">3</text><text x="0" y="0" text-anchor="middle" transform="translate(61.60 215.45) scale(0.85 1)">4</text>
<text x="0" y="0" text-anchor="middle" transform="translate(18.55 335.05) scale(0.98 1)">U</text><text x="0" y="0" text-anchor="middle" transform="translate(24.70 335.05) scale(0.86 1)">L</text><text x="0" y="0" text-anchor="middle" transform="translate(29.25 335.05) scale(0.68 1)">1</text><rect x="32.00" y="335.35" width="3.8" height="0.95"/><text x="0" y="0" text-anchor="middle" transform="translate(38.90 335.05) scale(0.85 1)">4</text><rect x="41.00" y="335.35" width="3.8" height="0.95"/><text x="0" y="0" text-anchor="middle" transform="translate(47.70 335.05) scale(0.84 1)">V</text><text x="0" y="0" text-anchor="middle" transform="translate(53.15 335.05) scale(0.72 1)">F</text><text x="0" y="0" text-anchor="middle" transform="translate(58.90 335.05) scale(0.86 1)">D</text><text x="0" y="0" text-anchor="middle" transform="translate(64.80 335.05) scale(0.68 1)">1</text><text x="0" y="0" text-anchor="middle" transform="translate(17.50 347.65) scale(0.68 1)">1</text><text x="0" y="0" text-anchor="middle" transform="translate(22.60 347.65) scale(0.68 1)">1</text><text x="0" y="0" text-anchor="middle" transform="translate(26.50 347.65) scale(1.0 1)">.</text><text x="0" y="0" text-anchor="middle" transform="translate(30.25 347.65) scale(0.88 1)">2</text><text x="0" y="0" text-anchor="middle" transform="translate(35.60 347.65) scale(0.82 1)">0</text><text x="0" y="0" text-anchor="middle" transform="translate(40.90 347.65) scale(0.82 1)">0</text><text x="0" y="0" text-anchor="middle" transform="translate(44.75 347.65) scale(1.0 1)">.</text><text x="0" y="0" text-anchor="middle" transform="translate(48.60 347.65) scale(0.68 1)">1</text><text x="0" y="0" text-anchor="middle" transform="translate(52.45 347.65) scale(1.0 1)">.</text><text x="0" y="0" text-anchor="middle" transform="translate(56.30 347.65) scale(0.85 1)">3</text><text x="0" y="0" text-anchor="middle" transform="translate(61.60 347.65) scale(0.85 1)">3</text>
<text x="0" y="0" text-anchor="middle" transform="translate(22.15 447.55) scale(0.98 1)">U</text><text x="0" y="0" text-anchor="middle" transform="translate(28.30 447.55) scale(0.86 1)">L</text><text x="0" y="0" text-anchor="middle" transform="translate(32.85 447.55) scale(0.68 1)">1</text><rect x="35.60" y="447.85" width="3.8" height="0.95"/><text x="0" y="0" text-anchor="middle" transform="translate(42.50 447.55) scale(0.68 1)">1</text><rect x="44.60" y="447.85" width="3.8" height="0.95"/><text x="0" y="0" text-anchor="middle" transform="translate(51.30 447.55) scale(0.84 1)">V</text><text x="0" y="0" text-anchor="middle" transform="translate(56.75 447.55) scale(0.72 1)">F</text><text x="0" y="0" text-anchor="middle" transform="translate(62.50 447.55) scale(0.86 1)">D</text><text x="0" y="0" text-anchor="middle" transform="translate(68.40 447.55) scale(0.68 1)">1</text><text x="0" y="0" text-anchor="middle" transform="translate(21.10 460.15) scale(0.68 1)">1</text><text x="0" y="0" text-anchor="middle" transform="translate(26.20 460.15) scale(0.68 1)">1</text><text x="0" y="0" text-anchor="middle" transform="translate(30.10 460.15) scale(1.0 1)">.</text><text x="0" y="0" text-anchor="middle" transform="translate(33.85 460.15) scale(0.88 1)">2</text><text x="0" y="0" text-anchor="middle" transform="translate(39.20 460.15) scale(0.82 1)">0</text><text x="0" y="0" text-anchor="middle" transform="translate(44.50 460.15) scale(0.82 1)">0</text><text x="0" y="0" text-anchor="middle" transform="translate(48.35 460.15) scale(1.0 1)">.</text><text x="0" y="0" text-anchor="middle" transform="translate(52.20 460.15) scale(0.68 1)">1</text><text x="0" y="0" text-anchor="middle" transform="translate(56.05 460.15) scale(1.0 1)">.</text><text x="0" y="0" text-anchor="middle" transform="translate(59.90 460.15) scale(0.85 1)">3</text><text x="0" y="0" text-anchor="middle" transform="translate(65.20 460.15) scale(0.82 1)">0</text>
<text x="0" y="0" text-anchor="middle" transform="translate(307.15 148.85) scale(0.98 1)">U</text><text x="0" y="0" text-anchor="middle" transform="translate(313.30 148.85) scale(0.86 1)">L</text><text x="0" y="0" text-anchor="middle" transform="translate(317.85 148.85) scale(0.88 1)">2</text><rect x="320.60" y="149.15" width="3.8" height="0.95"/><text x="0" y="0" text-anchor="middle" transform="translate(327.50 148.85) scale(0.9 1)">6</text><rect x="329.60" y="149.15" width="3.8" height="0.95"/><text x="0" y="0" text-anchor="middle" transform="translate(336.30 148.85) scale(0.84 1)">V</text><text x="0" y="0" text-anchor="middle" transform="translate(341.75 148.85) scale(0.72 1)">F</text><text x="0" y="0" text-anchor="middle" transform="translate(347.50 148.85) scale(0.86 1)">D</text><text x="0" y="0" text-anchor="middle" transform="translate(353.40 148.85) scale(0.68 1)">1</text><text x="0" y="0" text-anchor="middle" transform="translate(306.10 161.45) scale(0.68 1)">1</text><text x="0" y="0" text-anchor="middle" transform="translate(311.20 161.45) scale(0.68 1)">1</text><text x="0" y="0" text-anchor="middle" transform="translate(315.10 161.45) scale(1.0 1)">.</text><text x="0" y="0" text-anchor="middle" transform="translate(318.85 161.45) scale(0.88 1)">2</text><text x="0" y="0" text-anchor="middle" transform="translate(324.20 161.45) scale(0.82 1)">0</text><text x="0" y="0" text-anchor="middle" transform="translate(329.50 161.45) scale(0.82 1)">0</text><text x="0" y="0" text-anchor="middle" transform="translate(333.35 161.45) scale(1.0 1)">.</text><text x="0" y="0" text-anchor="middle" transform="translate(337.20 161.45) scale(0.68 1)">1</text><text x="0" y="0" text-anchor="middle" transform="translate(341.05 161.45) scale(1.0 1)">.</text><text x="0" y="0" text-anchor="middle" transform="translate(344.90 161.45) scale(0.85 1)">4</text><text x="0" y="0" text-anchor="middle" transform="translate(350.20 161.45) scale(0.68 1)">1</text>
<text x="0" y="0" text-anchor="middle" transform="translate(462.45 151.85) scale(0.98 1)">U</text><text x="0" y="0" text-anchor="middle" transform="translate(468.60 151.85) scale(0.86 1)">L</text><text x="0" y="0" text-anchor="middle" transform="translate(473.15 151.85) scale(0.88 1)">2</text><rect x="475.90" y="152.15" width="3.8" height="0.95"/><text x="0" y="0" text-anchor="middle" transform="translate(482.80 151.85) scale(0.85 1)">5</text><rect x="484.90" y="152.15" width="3.8" height="0.95"/><text x="0" y="0" text-anchor="middle" transform="translate(491.60 151.85) scale(0.84 1)">V</text><text x="0" y="0" text-anchor="middle" transform="translate(497.05 151.85) scale(0.72 1)">F</text><text x="0" y="0" text-anchor="middle" transform="translate(502.80 151.85) scale(0.86 1)">D</text><text x="0" y="0" text-anchor="middle" transform="translate(508.70 151.85) scale(0.68 1)">1</text><text x="0" y="0" text-anchor="middle" transform="translate(461.40 164.45) scale(0.68 1)">1</text><text x="0" y="0" text-anchor="middle" transform="translate(466.50 164.45) scale(0.68 1)">1</text><text x="0" y="0" text-anchor="middle" transform="translate(470.40 164.45) scale(1.0 1)">.</text><text x="0" y="0" text-anchor="middle" transform="translate(474.15 164.45) scale(0.88 1)">2</text><text x="0" y="0" text-anchor="middle" transform="translate(479.50 164.45) scale(0.82 1)">0</text><text x="0" y="0" text-anchor="middle" transform="translate(484.80 164.45) scale(0.82 1)">0</text><text x="0" y="0" text-anchor="middle" transform="translate(488.65 164.45) scale(1.0 1)">.</text><text x="0" y="0" text-anchor="middle" transform="translate(492.50 164.45) scale(0.68 1)">1</text><text x="0" y="0" text-anchor="middle" transform="translate(496.35 164.45) scale(1.0 1)">.</text><text x="0" y="0" text-anchor="middle" transform="translate(500.20 164.45) scale(0.85 1)">4</text><text x="0" y="0" text-anchor="middle" transform="translate(505.50 164.45) scale(0.82 1)">0</text>
<text x="0" y="0" text-anchor="middle" transform="translate(565.15 150.35) scale(0.98 1)">U</text><text x="0" y="0" text-anchor="middle" transform="translate(571.30 150.35) scale(0.86 1)">L</text><text x="0" y="0" text-anchor="middle" transform="translate(575.85 150.35) scale(0.88 1)">2</text><rect x="578.60" y="150.65" width="3.8" height="0.95"/><text x="0" y="0" text-anchor="middle" transform="translate(585.50 150.35) scale(0.85 1)">4</text><rect x="587.60" y="150.65" width="3.8" height="0.95"/><text x="0" y="0" text-anchor="middle" transform="translate(594.30 150.35) scale(0.84 1)">V</text><text x="0" y="0" text-anchor="middle" transform="translate(599.75 150.35) scale(0.72 1)">F</text><text x="0" y="0" text-anchor="middle" transform="translate(605.50 150.35) scale(0.86 1)">D</text><text x="0" y="0" text-anchor="middle" transform="translate(611.40 150.35) scale(0.68 1)">1</text><text x="0" y="0" text-anchor="middle" transform="translate(564.10 162.95) scale(0.68 1)">1</text><text x="0" y="0" text-anchor="middle" transform="translate(569.20 162.95) scale(0.68 1)">1</text><text x="0" y="0" text-anchor="middle" transform="translate(573.10 162.95) scale(1.0 1)">.</text><text x="0" y="0" text-anchor="middle" transform="translate(576.85 162.95) scale(0.88 1)">2</text><text x="0" y="0" text-anchor="middle" transform="translate(582.20 162.95) scale(0.82 1)">0</text><text x="0" y="0" text-anchor="middle" transform="translate(587.50 162.95) scale(0.82 1)">0</text><text x="0" y="0" text-anchor="middle" transform="translate(591.35 162.95) scale(1.0 1)">.</text><text x="0" y="0" text-anchor="middle" transform="translate(595.20 162.95) scale(0.68 1)">1</text><text x="0" y="0" text-anchor="middle" transform="translate(599.05 162.95) scale(1.0 1)">.</text><text x="0" y="0" text-anchor="middle" transform="translate(602.90 162.95) scale(0.85 1)">3</text><text x="0" y="0" text-anchor="middle" transform="translate(608.20 162.95) scale(0.85 1)">9</text>
<text x="0" y="0" text-anchor="middle" transform="translate(745.65 150.35) scale(0.98 1)">U</text><text x="0" y="0" text-anchor="middle" transform="translate(751.80 150.35) scale(0.86 1)">L</text><text x="0" y="0" text-anchor="middle" transform="translate(756.35 150.35) scale(0.68 1)">1</text><rect x="759.10" y="150.65" width="3.8" height="0.95"/><text x="0" y="0" text-anchor="middle" transform="translate(766.00 150.35) scale(0.85 1)">7</text><rect x="768.10" y="150.65" width="3.8" height="0.95"/><text x="0" y="0" text-anchor="middle" transform="translate(774.80 150.35) scale(0.84 1)">V</text><text x="0" y="0" text-anchor="middle" transform="translate(780.25 150.35) scale(0.72 1)">F</text><text x="0" y="0" text-anchor="middle" transform="translate(786.00 150.35) scale(0.86 1)">D</text><text x="0" y="0" text-anchor="middle" transform="translate(791.90 150.35) scale(0.68 1)">1</text><text x="0" y="0" text-anchor="middle" transform="translate(744.60 162.95) scale(0.68 1)">1</text><text x="0" y="0" text-anchor="middle" transform="translate(749.70 162.95) scale(0.68 1)">1</text><text x="0" y="0" text-anchor="middle" transform="translate(753.60 162.95) scale(1.0 1)">.</text><text x="0" y="0" text-anchor="middle" transform="translate(757.35 162.95) scale(0.88 1)">2</text><text x="0" y="0" text-anchor="middle" transform="translate(762.70 162.95) scale(0.82 1)">0</text><text x="0" y="0" text-anchor="middle" transform="translate(768.00 162.95) scale(0.82 1)">0</text><text x="0" y="0" text-anchor="middle" transform="translate(771.85 162.95) scale(1.0 1)">.</text><text x="0" y="0" text-anchor="middle" transform="translate(775.70 162.95) scale(0.68 1)">1</text><text x="0" y="0" text-anchor="middle" transform="translate(779.55 162.95) scale(1.0 1)">.</text><text x="0" y="0" text-anchor="middle" transform="translate(783.40 162.95) scale(0.85 1)">3</text><text x="0" y="0" text-anchor="middle" transform="translate(788.70 162.95) scale(0.9 1)">6</text>
<text x="0" y="0" text-anchor="middle" transform="translate(917.75 150.65) scale(0.98 1)">U</text><text x="0" y="0" text-anchor="middle" transform="translate(923.90 150.65) scale(0.86 1)">L</text><text x="0" y="0" text-anchor="middle" transform="translate(928.45 150.65) scale(0.88 1)">2</text><rect x="931.20" y="150.95" width="3.8" height="0.95"/><text x="0" y="0" text-anchor="middle" transform="translate(938.10 150.65) scale(0.88 1)">2</text><rect x="940.20" y="150.95" width="3.8" height="0.95"/><text x="0" y="0" text-anchor="middle" transform="translate(946.90 150.65) scale(0.78 1)">E</text><text x="0" y="0" text-anchor="middle" transform="translate(952.35 150.65) scale(0.8 1)">X</text><text x="0" y="0" text-anchor="middle" transform="translate(958.10 150.65) scale(0.68 1)">1</text><text x="0" y="0" text-anchor="middle" transform="translate(916.70 163.25) scale(0.68 1)">1</text><text x="0" y="0" text-anchor="middle" transform="translate(921.80 163.25) scale(0.68 1)">1</text><text x="0" y="0" text-anchor="middle" transform="translate(925.70 163.25) scale(1.0 1)">.</text><text x="0" y="0" text-anchor="middle" transform="translate(929.45 163.25) scale(0.88 1)">2</text><text x="0" y="0" text-anchor="middle" transform="translate(934.80 163.25) scale(0.82 1)">0</text><text x="0" y="0" text-anchor="middle" transform="translate(940.10 163.25) scale(0.82 1)">0</text><text x="0" y="0" text-anchor="middle" transform="translate(943.95 163.25) scale(1.0 1)">.</text><text x="0" y="0" text-anchor="middle" transform="translate(947.80 163.25) scale(0.68 1)">1</text><text x="0" y="0" text-anchor="middle" transform="translate(951.65 163.25) scale(1.0 1)">.</text><text x="0" y="0" text-anchor="middle" transform="translate(955.50 163.25) scale(0.85 1)">4</text><text x="0" y="0" text-anchor="middle" transform="translate(960.80 163.25) scale(0.88 1)">2</text>
</g>
<rect x="0" y="339" width="950" height="1" fill="#ff0000" fill-opacity="0.3"/>
<path d="M914.2 82.8L938 88.8L937.2 91.6L913.4 85.6Z" fill="#a0a0a0"/>
<g fill="none" stroke="#7a7a7a" stroke-width="0.7">
<path d="M917.5 81.3L951 69.9"/>
<path d="M916.5 82.4L951 71.6"/>
<path d="M914.2 82.8Q910 84.5 909.6 87.5Q909.6 89.8 912.6 90.8L934.5 98Q937 98.8 939.5 97.8L951 93.4"/>
<path d="M914.2 82.8L938 88.8L951 84.6"/>
<path d="M938 88.8Q935.6 92 936.4 96.2"/>
<path d="M911.2 88L934.8 95.2"/>
<path d="M939.5 91.5L951 87.6"/>
</g>
<circle cx="914.8" cy="82.9" r="1" fill="#555"/><circle cx="937.8" cy="89" r="1" fill="#555"/>
<rect x="0" y="0" width="950" height="4.2" fill="#dbe8f0"/><rect x="0" y="0" width="4.2" height="521" fill="#dbe8f0"/><rect x="4" y="3.95" width="946" height="1.5" fill="#58bef0" fill-opacity="0.5"/><rect x="4" y="4" width="1.65" height="517" fill="#58bef0" fill-opacity="0.5"/><rect x="0" y="0" width="4.6" height="4.6" fill="#f3f3f3"/><rect x="0" y="4.2" width="4.4" height="1.2" fill="#d2d4da"/><rect x="4.2" y="0" width="1.2" height="4.4" fill="#d2d4da"/><rect x="4.71" y="0" width="0.8" height="4.2" fill="#8aa4bc"/><rect x="12.21" y="2" width="0.8" height="2.2" fill="#8aa4bc"/><rect x="19.71" y="2" width="0.8" height="2.2" fill="#8aa4bc"/><rect x="27.20" y="2" width="0.8" height="2.2" fill="#8aa4bc"/><rect x="34.70" y="2" width="0.8" height="2.2" fill="#8aa4bc"/><rect x="42.20" y="0" width="0.8" height="4.2" fill="#8aa4bc"/><rect x="49.70" y="2" width="0.8" height="2.2" fill="#8aa4bc"/><rect x="57.20" y="2" width="0.8" height="2.2" fill="#8aa4bc"/><rect x="64.69" y="2" width="0.8" height="2.2" fill="#8aa4bc"/><rect x="72.19" y="2" width="0.8" height="2.2" fill="#8aa4bc"/><rect x="79.69" y="0" width="0.8" height="4.2" fill="#8aa4bc"/><rect x="87.19" y="2" width="0.8" height="2.2" fill="#8aa4bc"/><rect x="94.69" y="2" width="0.8" height="2.2" fill="#8aa4bc"/><rect x="102.18" y="2" width="0.8" height="2.2" fill="#8aa4bc"/><rect x="109.68" y="2" width="0.8" height="2.2" fill="#8aa4bc"/><rect x="117.18" y="0" width="0.8" height="4.2" fill="#8aa4bc"/><rect x="124.68" y="2" width="0.8" height="2.2" fill="#8aa4bc"/><rect x="132.18" y="2" width="0.8" height="2.2" fill="#8aa4bc"/><rect x="139.67" y="2" width="0.8" height="2.2" fill="#8aa4bc"/><rect x="147.17" y="2" width="0.8" height="2.2" fill="#8aa4bc"/><rect x="154.67" y="0" width="0.8" height="4.2" fill="#8aa4bc"/><rect x="162.17" y="2" width="0.8" height="2.2" fill="#8aa4bc"/><rect x="169.67" y="2" width="0.8" height="2.2" fill="#8aa4bc"/><rect x="177.16" y="2" width="0.8" height="2.2" fill="#8aa4bc"/><rect x="184.66" y="2" width="0.8" height="2.2" fill="#8aa4bc"/><rect x="192.16" y="0" width="0.8" height="4.2" fill="#8aa4bc"/><rect x="199.66" y="2" width="0.8" height="2.2" fill="#8aa4bc"/><rect x="207.16" y="2" width="0.8" height="2.2" fill="#8aa4bc"/><rect x="214.65" y="2" width="0.8" height="2.2" fill="#8aa4bc"/><rect x="222.15" y="2" width="0.8" height="2.2" fill="#8aa4bc"/><rect x="229.65" y="0" width="0.8" height="4.2" fill="#8aa4bc"/><rect x="237.15" y="2" width="0.8" height="2.2" fill="#8aa4bc"/><rect x="244.65" y="2" width="0.8" height="2.2" fill="#8aa4bc"/><rect x="252.14" y="2" width="0.8" height="2.2" fill="#8aa4bc"/><rect x="259.64" y="2" width="0.8" height="2.2" fill="#8aa4bc"/><rect x="267.14" y="0" width="0.8" height="4.2" fill="#8aa4bc"/><rect x="274.64" y="2" width="0.8" height="2.2" fill="#8aa4bc"/><rect x="282.14" y="2" width="0.8" height="2.2" fill="#8aa4bc"/><rect x="289.63" y="2" width="0.8" height="2.2" fill="#8aa4bc"/><rect x="297.13" y="2" width="0.8" height="2.2" fill="#8aa4bc"/><rect x="304.63" y="0" width="0.8" height="4.2" fill="#8aa4bc"/><rect x="312.13" y="2" width="0.8" height="2.2" fill="#8aa4bc"/><rect x="319.63" y="2" width="0.8" height="2.2" fill="#8aa4bc"/><rect x="327.12" y="2" width="0.8" height="2.2" fill="#8aa4bc"/><rect x="334.62" y="2" width="0.8" height="2.2" fill="#8aa4bc"/><rect x="342.12" y="0" width="0.8" height="4.2" fill="#8aa4bc"/><rect x="349.62" y="2" width="0.8" height="2.2" fill="#8aa4bc"/><rect x="357.12" y="2" width="0.8" height="2.2" fill="#8aa4bc"/><rect x="364.61" y="2" width="0.8" height="2.2" fill="#8aa4bc"/><rect x="372.11" y="2" width="0.8" height="2.2" fill="#8aa4bc"/><rect x="379.61" y="0" width="0.8" height="4.2" fill="#8aa4bc"/><rect x="387.11" y="2" width="0.8" height="2.2" fill="#8aa4bc"/><rect x="394.61" y="2" width="0.8" height="2.2" fill="#8aa4bc"/><rect x="402.10" y="2" width="0.8" height="2.2" fill="#8aa4bc"/><rect x="409.60" y="2" width="0.8" height="2.2" fill="#8aa4bc"/><rect x="417.10" y="0" width="0.8" height="4.2" fill="#8aa4bc"/><rect x="424.60" y="2" width="0.8" height="2.2" fill="#8aa4bc"/><rect x="432.10" y="2" width="0.8" height="2.2" fill="#8aa4bc"/><rect x="439.59" y="2" width="0.8" height="2.2" fill="#8aa4bc"/><rect x="447.09" y="2" width="0.8" height="2.2" fill="#8aa4bc"/><rect x="454.59" y="0" width="0.8" height="4.2" fill="#8aa4bc"/><rect x="462.09" y="2" width="0.8" height="2.2" fill="#8aa4bc"/><rect x="469.59" y="2" width="0.8" height="2.2" fill="#8aa4bc"/><rect x="477.08" y="2" width="0.8" height="2.2" fill="#8aa4bc"/><rect x="484.58" y="2" width="0.8" height="2.2" fill="#8aa4bc"/><rect x="492.08" y="0" width="0.8" height="4.2" fill="#8aa4bc"/><rect x="499.58" y="2" width="0.8" height="2.2" fill="#8aa4bc"/><rect x="507.08" y="2" width="0.8" height="2.2" fill="#8aa4bc"/><rect x="514.57" y="2" width="0.8" height="2.2" fill="#8aa4bc"/><rect x="522.07" y="2" width="0.8" height="2.2" fill="#8aa4bc"/><rect x="529.57" y="0" width="0.8" height="4.2" fill="#8aa4bc"/><rect x="537.07" y="2" width="0.8" height="2.2" fill="#8aa4bc"/><rect x="544.57" y="2" width="0.8" height="2.2" fill="#8aa4bc"/><rect x="552.06" y="2" width="0.8" height="2.2" fill="#8aa4bc"/><rect x="559.56" y="2" width="0.8" height="2.2" fill="#8aa4bc"/><rect x="567.06" y="0" width="0.8" height="4.2" fill="#8aa4bc"/><rect x="574.56" y="2" width="0.8" height="2.2" fill="#8aa4bc"/><rect x="582.06" y="2" width="0.8" height="2.2" fill="#8aa4bc"/><rect x="589.55" y="2" width="0.8" height="2.2" fill="#8aa4bc"/><rect x="597.05" y="2" width="0.8" height="2.2" fill="#8aa4bc"/><rect x="604.55" y="0" width="0.8" height="4.2" fill="#8aa4bc"/><rect x="612.05" y="2" width="0.8" height="2.2" fill="#8aa4bc"/><rect x="619.55" y="2" width="0.8" height="2.2" fill="#8aa4bc"/><rect x="627.04" y="2" width="0.8" height="2.2" fill="#8aa4bc"/><rect x="634.54" y="2" width="0.8" height="2.2" fill="#8aa4bc"/><rect x="642.04" y="0" width="0.8" height="4.2" fill="#8aa4bc"/><rect x="649.54" y="2" width="0.8" height="2.2" fill="#8aa4bc"/><rect x="657.04" y="2" width="0.8" height="2.2" fill="#8aa4bc"/><rect x="664.53" y="2" width="0.8" height="2.2" fill="#8aa4bc"/><rect x="672.03" y="2" width="0.8" height="2.2" fill="#8aa4bc"/><rect x="679.53" y="0" width="0.8" height="4.2" fill="#8aa4bc"/><rect x="687.03" y="2" width="0.8" height="2.2" fill="#8aa4bc"/><rect x="694.53" y="2" width="0.8" height="2.2" fill="#8aa4bc"/><rect x="702.02" y="2" width="0.8" height="2.2" fill="#8aa4bc"/><rect x="709.52" y="2" width="0.8" height="2.2" fill="#8aa4bc"/><rect x="717.02" y="0" width="0.8" height="4.2" fill="#8aa4bc"/><rect x="724.52" y="2" width="0.8" height="2.2" fill="#8aa4bc"/><rect x="732.02" y="2" width="0.8" height="2.2" fill="#8aa4bc"/><rect x="739.51" y="2" width="0.8" height="2.2" fill="#8aa4bc"/><rect x="747.01" y="2" width="0.8" height="2.2" fill="#8aa4bc"/><rect x="754.51" y="0" width="0.8" height="4.2" fill="#8aa4bc"/><rect x="762.01" y="2" width="0.8" height="2.2" fill="#8aa4bc"/><rect x="769.51" y="2" width="0.8" height="2.2" fill="#8aa4bc"/><rect x="777.00" y="2" width="0.8" height="2.2" fill="#8aa4bc"/><rect x="784.50" y="2" width="0.8" height="2.2" fill="#8aa4bc"/><rect x="792.00" y="0" width="0.8" height="4.2" fill="#8aa4bc"/><rect x="799.50" y="2" width="0.8" height="2.2" fill="#8aa4bc"/><rect x="807.00" y="2" width="0.8" height="2.2" fill="#8aa4bc"/><rect x="814.49" y="2" width="0.8" height="2.2" fill="#8aa4bc"/><rect x="821.99" y="2" width="0.8" height="2.2" fill="#8aa4bc"/><rect x="829.49" y="0" width="0.8" height="4.2" fill="#8aa4bc"/><rect x="836.99" y="2" width="0.8" height="2.2" fill="#8aa4bc"/><rect x="844.49" y="2" width="0.8" height="2.2" fill="#8aa4bc"/><rect x="851.98" y="2" width="0.8" height="2.2" fill="#8aa4bc"/><rect x="859.48" y="2" width="0.8" height="2.2" fill="#8aa4bc"/><rect x="866.98" y="0" width="0.8" height="4.2" fill="#8aa4bc"/><rect x="874.48" y="2" width="0.8" height="2.2" fill="#8aa4bc"/><rect x="881.98" y="2" width="0.8" height="2.2" fill="#8aa4bc"/><rect x="889.47" y="2" width="0.8" height="2.2" fill="#8aa4bc"/><rect x="896.97" y="2" width="0.8" height="2.2" fill="#8aa4bc"/><rect x="904.47" y="0" width="0.8" height="4.2" fill="#8aa4bc"/><rect x="911.97" y="2" width="0.8" height="2.2" fill="#8aa4bc"/><rect x="919.47" y="2" width="0.8" height="2.2" fill="#8aa4bc"/><rect x="926.96" y="2" width="0.8" height="2.2" fill="#8aa4bc"/><rect x="934.46" y="2" width="0.8" height="2.2" fill="#8aa4bc"/><rect x="941.96" y="0" width="0.8" height="4.2" fill="#8aa4bc"/><rect x="949.46" y="2" width="0.8" height="2.2" fill="#8aa4bc"/><rect y="4.71" x="0" height="0.8" width="4.2" fill="#8aa4bc"/><rect y="12.21" x="2" height="0.8" width="2.2" fill="#8aa4bc"/><rect y="19.71" x="2" height="0.8" width="2.2" fill="#8aa4bc"/><rect y="27.20" x="2" height="0.8" width="2.2" fill="#8aa4bc"/><rect y="34.70" x="2" height="0.8" width="2.2" fill="#8aa4bc"/><rect y="42.20" x="0" height="0.8" width="4.2" fill="#8aa4bc"/><rect y="49.70" x="2" height="0.8" width="2.2" fill="#8aa4bc"/><rect y="57.20" x="2" height="0.8" width="2.2" fill="#8aa4bc"/><rect y="64.69" x="2" height="0.8" width="2.2" fill="#8aa4bc"/><rect y="72.19" x="2" height="0.8" width="2.2" fill="#8aa4bc"/><rect y="79.69" x="0" height="0.8" width="4.2" fill="#8aa4bc"/><rect y="87.19" x="2" height="0.8" width="2.2" fill="#8aa4bc"/><rect y="94.69" x="2" height="0.8" width="2.2" fill="#8aa4bc"/><rect y="102.18" x="2" height="0.8" width="2.2" fill="#8aa4bc"/><rect y="109.68" x="2" height="0.8" width="2.2" fill="#8aa4bc"/><rect y="117.18" x="0" height="0.8" width="4.2" fill="#8aa4bc"/><rect y="124.68" x="2" height="0.8" width="2.2" fill="#8aa4bc"/><rect y="132.18" x="2" height="0.8" width="2.2" fill="#8aa4bc"/><rect y="139.67" x="2" height="0.8" width="2.2" fill="#8aa4bc"/><rect y="147.17" x="2" height="0.8" width="2.2" fill="#8aa4bc"/><rect y="154.67" x="0" height="0.8" width="4.2" fill="#8aa4bc"/><rect y="162.17" x="2" height="0.8" width="2.2" fill="#8aa4bc"/><rect y="169.67" x="2" height="0.8" width="2.2" fill="#8aa4bc"/><rect y="177.16" x="2" height="0.8" width="2.2" fill="#8aa4bc"/><rect y="184.66" x="2" height="0.8" width="2.2" fill="#8aa4bc"/><rect y="192.16" x="0" height="0.8" width="4.2" fill="#8aa4bc"/><rect y="199.66" x="2" height="0.8" width="2.2" fill="#8aa4bc"/><rect y="207.16" x="2" height="0.8" width="2.2" fill="#8aa4bc"/><rect y="214.65" x="2" height="0.8" width="2.2" fill="#8aa4bc"/><rect y="222.15" x="2" height="0.8" width="2.2" fill="#8aa4bc"/><rect y="229.65" x="0" height="0.8" width="4.2" fill="#8aa4bc"/><rect y="237.15" x="2" height="0.8" width="2.2" fill="#8aa4bc"/><rect y="244.65" x="2" height="0.8" width="2.2" fill="#8aa4bc"/><rect y="252.14" x="2" height="0.8" width="2.2" fill="#8aa4bc"/><rect y="259.64" x="2" height="0.8" width="2.2" fill="#8aa4bc"/><rect y="267.14" x="0" height="0.8" width="4.2" fill="#8aa4bc"/><rect y="274.64" x="2" height="0.8" width="2.2" fill="#8aa4bc"/><rect y="282.14" x="2" height="0.8" width="2.2" fill="#8aa4bc"/><rect y="289.63" x="2" height="0.8" width="2.2" fill="#8aa4bc"/><rect y="297.13" x="2" height="0.8" width="2.2" fill="#8aa4bc"/><rect y="304.63" x="0" height="0.8" width="4.2" fill="#8aa4bc"/><rect y="312.13" x="2" height="0.8" width="2.2" fill="#8aa4bc"/><rect y="319.63" x="2" height="0.8" width="2.2" fill="#8aa4bc"/><rect y="327.12" x="2" height="0.8" width="2.2" fill="#8aa4bc"/><rect y="334.62" x="2" height="0.8" width="2.2" fill="#8aa4bc"/><rect y="342.12" x="0" height="0.8" width="4.2" fill="#8aa4bc"/><rect y="349.62" x="2" height="0.8" width="2.2" fill="#8aa4bc"/><rect y="357.12" x="2" height="0.8" width="2.2" fill="#8aa4bc"/><rect y="364.61" x="2" height="0.8" width="2.2" fill="#8aa4bc"/><rect y="372.11" x="2" height="0.8" width="2.2" fill="#8aa4bc"/><rect y="379.61" x="0" height="0.8" width="4.2" fill="#8aa4bc"/><rect y="387.11" x="2" height="0.8" width="2.2" fill="#8aa4bc"/><rect y="394.61" x="2" height="0.8" width="2.2" fill="#8aa4bc"/><rect y="402.10" x="2" height="0.8" width="2.2" fill="#8aa4bc"/><rect y="409.60" x="2" height="0.8" width="2.2" fill="#8aa4bc"/><rect y="417.10" x="0" height="0.8" width="4.2" fill="#8aa4bc"/><rect y="424.60" x="2" height="0.8" width="2.2" fill="#8aa4bc"/><rect y="432.10" x="2" height="0.8" width="2.2" fill="#8aa4bc"/><rect y="439.59" x="2" height="0.8" width="2.2" fill="#8aa4bc"/><rect y="447.09" x="2" height="0.8" width="2.2" fill="#8aa4bc"/><rect y="454.59" x="0" height="0.8" width="4.2" fill="#8aa4bc"/><rect y="462.09" x="2" height="0.8" width="2.2" fill="#8aa4bc"/><rect y="469.59" x="2" height="0.8" width="2.2" fill="#8aa4bc"/><rect y="477.08" x="2" height="0.8" width="2.2" fill="#8aa4bc"/><rect y="484.58" x="2" height="0.8" width="2.2" fill="#8aa4bc"/><rect y="492.08" x="0" height="0.8" width="4.2" fill="#8aa4bc"/><rect y="499.58" x="2" height="0.8" width="2.2" fill="#8aa4bc"/><rect y="507.08" x="2" height="0.8" width="2.2" fill="#8aa4bc"/><rect y="514.57" x="2" height="0.8" width="2.2" fill="#8aa4bc"/><ellipse cx="0.3" cy="10.0" rx="1.1" ry="1.3" fill="#4f7fc0" fill-opacity="0.35"/><ellipse cx="0.3" cy="85.0" rx="1.1" ry="1.3" fill="#4f7fc0" fill-opacity="0.85"/><ellipse cx="0.3" cy="89.8" rx="1.1" ry="1.3" fill="#4f7fc0" fill-opacity="0.85"/><ellipse cx="0.3" cy="94.6" rx="1.1" ry="1.3" fill="#4f7fc0" fill-opacity="0.35"/><ellipse cx="0.3" cy="160.0" rx="1.1" ry="1.3" fill="#4f7fc0" fill-opacity="0.85"/><ellipse cx="0.3" cy="164.8" rx="1.1" ry="1.3" fill="#4f7fc0" fill-opacity="0.85"/><ellipse cx="0.3" cy="169.6" rx="1.1" ry="1.3" fill="#4f7fc0" fill-opacity="0.85"/><ellipse cx="0.3" cy="235.0" rx="1.1" ry="1.3" fill="#4f7fc0" fill-opacity="0.85"/><ellipse cx="0.3" cy="239.8" rx="1.1" ry="1.3" fill="#4f7fc0" fill-opacity="0.85"/><ellipse cx="0.3" cy="244.6" rx="1.1" ry="1.3" fill="#4f7fc0" fill-opacity="0.85"/><ellipse cx="0.3" cy="310.0" rx="1.1" ry="1.3" fill="#4f7fc0" fill-opacity="0.85"/><ellipse cx="0.3" cy="314.8" rx="1.1" ry="1.3" fill="#4f7fc0" fill-opacity="0.85"/><ellipse cx="0.3" cy="319.6" rx="1.1" ry="1.3" fill="#4f7fc0" fill-opacity="0.35"/><ellipse cx="0.3" cy="385.0" rx="1.1" ry="1.3" fill="#4f7fc0" fill-opacity="0.85"/><ellipse cx="0.3" cy="389.8" rx="1.1" ry="1.3" fill="#4f7fc0" fill-opacity="0.85"/><ellipse cx="0.3" cy="394.6" rx="1.1" ry="1.3" fill="#4f7fc0" fill-opacity="0.85"/><ellipse cx="0.3" cy="460.0" rx="1.1" ry="1.3" fill="#4f7fc0" fill-opacity="0.85"/><ellipse cx="0.3" cy="464.8" rx="1.1" ry="1.3" fill="#4f7fc0" fill-opacity="0.85"/><ellipse cx="0.3" cy="469.6" rx="1.1" ry="1.3" fill="#4f7fc0" fill-opacity="0.85"/></svg>
</body></html>
